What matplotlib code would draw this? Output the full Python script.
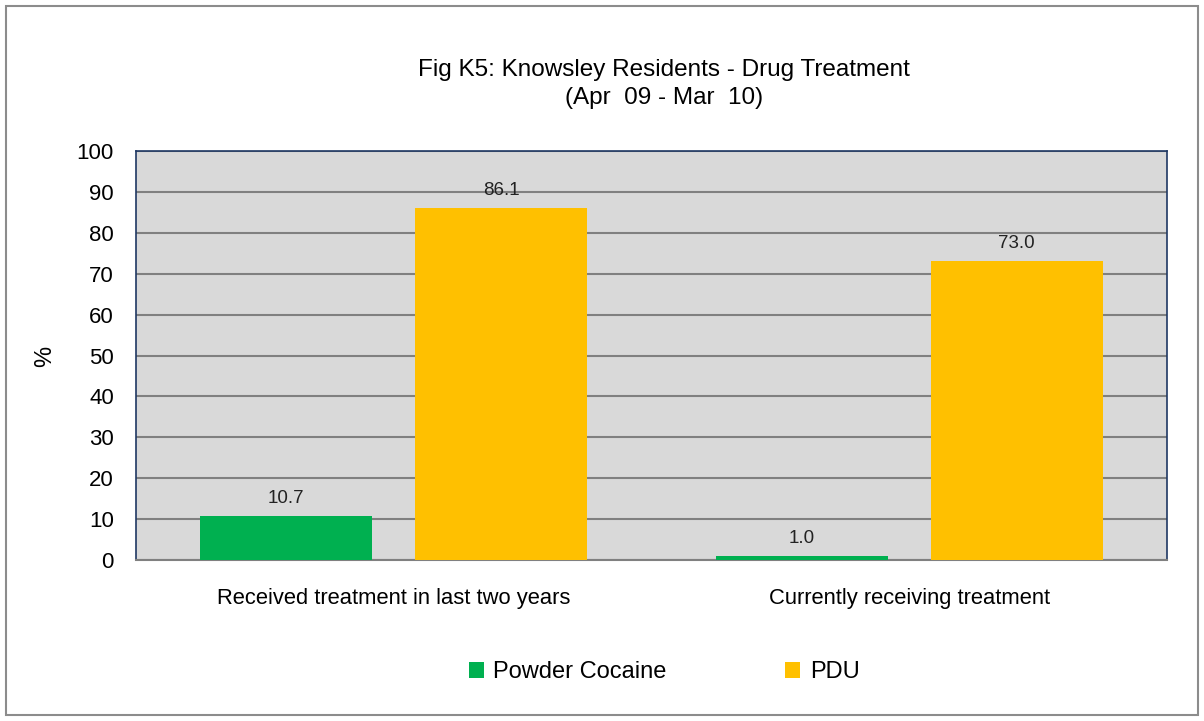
import matplotlib
matplotlib.use("Agg")
import matplotlib.pyplot as plt
import numpy as np
from matplotlib.patches import Rectangle

plt.rcParams['font.family'] = ['Liberation Sans', 'DejaVu Sans']

categories = ["Received treatment in last two years", "Currently receiving treatment"]
series_names = ["Powder Cocaine", "PDU"]
powder_cocaine = [10.7, 1.0]
pdu = [86.1, 73.0]
colors = ["#00B050", "#FFC000"]
yticks = [0, 10, 20, 30, 40, 50, 60, 70, 80, 90, 100]

fig = plt.figure(figsize=(12.04, 7.21), dpi=100)
fig.patches.append(Rectangle((6/1204, 1 - 715/721), 1192/1204, 709/721,
                             transform=fig.transFigure, fill=False,
                             edgecolor="#8c8c8c", linewidth=1.5))

ax = fig.add_axes([136/1204, 1 - 560/721, (1167 - 136)/1204, (560 - 151)/721])
ax.set_facecolor("#D9D9D9")

x = np.arange(len(categories))
w = 0.334
off = 0.2085
for vals, name, col, o in [(powder_cocaine, series_names[0], colors[0], -off),
                           (pdu, series_names[1], colors[1], off)]:
    bars = ax.bar(x + o, vals, width=w, color=col, label=name, zorder=3)
    for b, v in zip(bars, vals):
        ax.text(b.get_x() + b.get_width()/2, v + 2.2, f"{v:.1f}",
                ha="center", va="bottom", fontsize=13.5, color="#222222", zorder=4)

ax.set_xlim(-0.5, 1.5)
ax.set_ylim(0, 100)
ax.set_yticks(yticks)
ax.set_yticklabels([str(t) for t in yticks], fontsize=16)
ax.set_xticks(x)
ax.set_xticklabels(categories, fontsize=15.8)
ax.tick_params(axis="x", length=0, pad=20)
ax.tick_params(axis="y", length=0, pad=16)
ax.yaxis.grid(True, color="#808080", linewidth=1.5, zorder=1)
ax.set_axisbelow(True)
for s in ["left", "top", "right"]:
    ax.spines[s].set_color("#1F3864")
    ax.spines[s].set_linewidth(1.2)
ax.spines["bottom"].set_color("#808080")
ax.spines["bottom"].set_linewidth(1.5)

ax.set_ylabel("%", fontsize=17)
ax.yaxis.set_label_coords((56 - 136)/1031, (560 - 356)/409)

fig.text(664/1204, 1 - 84/721, "Fig K5: Knowsley Residents - Drug Treatment\n(Apr  09 - Mar  10)",
         ha="center", va="center", fontsize=17.5, linespacing=1.35)

handles, labels = ax.get_legend_handles_labels()
fig.legend(handles, labels, loc="center", bbox_to_anchor=(664/1204, 1 - 672/721),
           ncol=2, frameon=False, fontsize=17, handlelength=0.65, handleheight=0.65,
           handletextpad=0.4, columnspacing=5.0)

fig.savefig("out.png", dpi=100)
